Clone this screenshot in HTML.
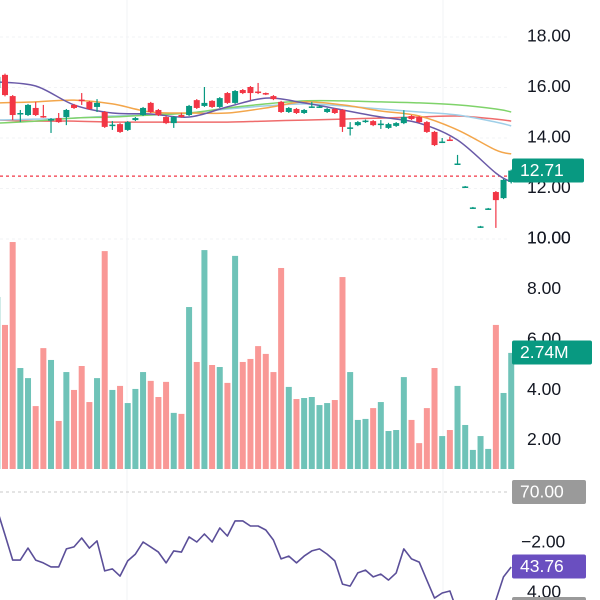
<!DOCTYPE html>
<html><head><meta charset="utf-8"><style>
html,body{margin:0;padding:0;background:#fff;}
svg{display:block;font-family:"Liberation Sans",sans-serif;}
</style></head><body>
<svg id="chart" width="600" height="600" viewBox="0 0 600 600" xmlns="http://www.w3.org/2000/svg">
<g id="grid"></g>
<g id="volume"></g>
<g id="mas"></g>
<g id="candles"></g>
<g id="rsi"></g>
<g id="axis"></g>
</svg>
<script>
const opens=[15.98,16.50,15.66,14.95,14.91,15.19,14.87,14.71,14.79,14.83,15.31,15.52,15.43,15.23,15.03,14.49,14.55,14.32,14.71,14.91,15.39,15.11,14.83,14.59,14.91,14.91,15.50,15.27,15.47,15.23,15.78,15.39,15.90,16.02,15.84,15.78,15.66,15.43,15.03,15.15,14.99,15.21,15.21,15.03,15.15,15.11,14.38,14.51,14.65,14.67,14.53,14.40,14.48,14.59,14.87,14.83,14.63,14.24,13.82,13.94,12.95,12.04,11.21,10.46,11.17,11.86,11.62,12.26];
const closes=[16.42,15.70,14.91,14.99,15.31,14.91,14.83,14.75,14.63,15.11,15.19,15.48,15.15,15.39,14.44,14.53,14.24,14.63,14.79,15.19,15.03,14.91,14.59,14.83,14.83,15.27,15.19,15.39,15.23,15.58,15.39,15.86,15.78,15.78,15.80,15.74,15.54,15.03,15.19,14.99,15.11,15.25,15.25,15.15,14.99,14.44,14.42,14.63,14.69,14.51,14.57,14.55,14.59,14.83,14.75,14.63,14.24,13.72,13.86,13.90,12.99,12.08,11.25,10.50,11.21,11.54,12.34,12.71];
const highs=[16.50,16.55,15.70,15.11,15.35,15.43,15.31,14.79,14.99,15.15,15.35,15.78,15.47,15.54,15.07,14.67,14.59,14.67,14.83,15.23,15.43,15.15,14.87,14.87,15.00,15.31,15.54,16.02,15.50,15.62,15.82,15.90,15.94,16.06,16.18,15.80,15.70,15.47,15.23,15.19,15.15,15.43,15.30,15.19,15.19,15.15,14.63,14.67,14.73,14.71,14.71,14.60,14.63,15.10,14.91,14.87,14.67,14.28,14.00,14.05,13.33,12.10,11.27,10.52,11.23,11.90,12.38,12.75];
const lows=[15.90,15.65,14.71,14.63,14.87,14.87,14.80,14.20,14.60,14.51,15.15,15.31,15.11,15.03,14.40,14.32,14.20,14.28,14.67,14.87,14.99,14.87,14.55,14.40,14.80,14.87,15.15,15.23,15.19,15.19,15.35,15.35,15.74,15.50,15.74,15.70,15.50,14.99,14.99,14.95,14.95,15.19,15.19,14.99,14.95,14.24,14.10,14.47,14.60,14.47,14.36,14.36,14.44,14.55,14.71,14.59,14.20,13.68,13.80,13.88,12.93,12.02,11.19,10.44,11.15,10.44,11.58,12.20];
const volumes=[7.70,6.59,9.88,4.88,4.48,3.37,5.67,5.20,2.78,4.72,4.01,4.96,3.53,4.48,9.52,4.01,4.17,3.49,4.05,4.72,4.37,3.73,4.33,3.10,3.06,7.30,5.12,9.56,5.00,4.92,4.29,9.33,5.12,5.24,5.75,5.44,4.72,8.85,4.13,3.65,3.69,3.73,3.41,3.49,3.61,8.49,4.72,2.82,2.86,3.29,3.53,2.38,2.42,4.52,2.82,1.90,3.29,4.88,2.18,2.42,4.17,2.62,1.63,2.18,1.67,6.59,3.89,5.48];
const volUp=[1,0,0,1,1,0,0,1,0,1,0,0,0,1,0,1,0,1,1,1,0,0,0,1,0,1,0,1,0,1,0,1,0,0,0,0,0,0,1,0,1,1,1,1,0,0,1,1,1,0,1,1,1,1,0,0,0,0,1,0,1,1,1,1,1,0,1,1];
const rsiValues=[63.7,55.0,46.2,46.2,50.4,46.2,45.2,43.8,43.8,50.1,50.8,53.9,50.4,52.9,42.4,43.1,40.6,45.9,48.3,52.5,50.8,49.0,45.2,49.4,49.0,54.3,52.5,55.3,52.5,57.4,54.6,59.9,59.9,58.1,58.1,56.7,53.2,46.6,47.6,45.2,47.6,49.4,50.1,48.3,45.9,37.8,37.1,41.7,42.7,40.3,41.3,39.2,41.7,50.1,46.6,45.5,39.2,32.9,34.7,35.4,28,25,22,22,26,32.2,40.3,43.76];
const maIdx=[0,5,10,15,20,25,30,35,40,45,50,55,60,65,67];
const maPurple=[16.22,16.06,15.31,14.99,14.95,14.83,15.23,15.58,15.39,15.11,14.83,14.59,13.92,12.61,12.26];
const maOrange=[15.39,15.43,15.50,15.35,15.03,14.99,14.99,15.19,15.43,15.31,15.07,14.87,14.32,13.52,13.37];
const maGreen=[14.59,14.67,14.79,14.83,14.91,14.99,15.19,15.35,15.47,15.47,15.43,15.39,15.31,15.15,15.03];
const maBlue=[14.71,14.75,14.79,14.87,14.91,14.99,15.15,15.27,15.35,15.27,15.15,15.03,14.91,14.63,14.48];
const maRed=[14.71,14.67,14.67,14.63,14.63,14.63,14.63,14.67,14.71,14.75,14.79,14.83,14.87,14.75,14.67];
const priceTicks=["18.00","16.00","14.00","12.00","10.00"];
const priceTickVals=[18,16,14,12,10];
const volTicks=["10.00","8.00","6.00","4.00","2.00"];
const volTickVals=[10,8,6,4,2];
const lastPrice=12.71, lastLine=12.49, lastVolume="2.74M", lastRsi=43.76, rsiUpper=70;

const NS="http://www.w3.org/2000/svg";
const xOf=i=>-2.67+7.67*i;
const yP=p=>138-(p-14)*25.25;
const yV=v=>491-v*25.2;
const yR=r=>492+(rsiUpper-r)*2.86;
function mk(tag,attrs,parent){const e=document.createElementNS(NS,tag);for(const k in attrs)e.setAttribute(k,attrs[k]);parent.appendChild(e);return e;}
const G=id=>document.getElementById(id);
const UP="#089981",DN="#f23645";

const grid=G('grid');
[127,443].forEach(x=>{const l=mk('line',{x1:x,x2:x,y1:0,y2:600,stroke:'#f2f3f5','stroke-width':1},grid);

});
priceTickVals.forEach(v=>{const l=mk('line',{x1:0,x2:510,y1:yP(v),y2:yP(v),stroke:'#f2f3f5','stroke-dasharray':'3 3'},grid);

});

const vg=G('volume');
volumes.forEach((v,i)=>{const top=yV(v);const r=mk('rect',{x:xOf(i)-3,y:top,width:6,height:469-top,fill:volUp[i]?'#6fc3b8':'#f99896'},vg);

});

const mg=G('mas');
function maLine(arr,color,name){
const pts=arr.map((v,k)=>[xOf(maIdx[k]),yP(v)]);
let d='M'+pts[0][0].toFixed(1)+' '+pts[0][1].toFixed(1);
for(let k=0;k<pts.length-1;k++){const p0=pts[Math.max(0,k-1)],p1=pts[k],p2=pts[k+1],p3=pts[Math.min(pts.length-1,k+2)];
const c1=[p1[0]+(p2[0]-p0[0])/6,p1[1]+(p2[1]-p0[1])/6],c2=[p2[0]-(p3[0]-p1[0])/6,p2[1]-(p3[1]-p1[1])/6];
d+=' C'+c1[0].toFixed(1)+' '+c1[1].toFixed(1)+' '+c2[0].toFixed(1)+' '+c2[1].toFixed(1)+' '+p2[0].toFixed(1)+' '+p2[1].toFixed(1);}
const p=mk('path',{d:d,fill:'none',stroke:color,'stroke-width':1.5,'stroke-linejoin':'round'},mg);

}
maLine(maRed,'#ef6c6c','ma-red-line');
maLine(maBlue,'#9fcfe8','ma-blue-line');
maLine(maGreen,'#7fd36a','ma-green-line');
maLine(maOrange,'#f3a64b','ma-orange-line');
maLine(maPurple,'#6a5aa8','ma-purple-line');

const dl=mk('line',{x1:0,x2:512,y1:yP(lastLine),y2:yP(lastLine),stroke:'#f23645','stroke-width':1.2,'stroke-dasharray':'3 3'},G('grid'));



const cg=G('candles');
opens.forEach((o,i)=>{const c=closes[i];const col=c>=o?UP:DN;const x=xOf(i);
const w=mk('line',{x1:x,x2:x,y1:yP(highs[i]),y2:yP(lows[i]),stroke:col,'stroke-width':1.2},cg);


const t=yP(Math.max(o,c)),b=yP(Math.min(o,c));
const r=mk('rect',{x:x-3,y:t,width:6,height:Math.max(1.5,b-t),fill:col},cg);

});

const rg=G('rsi');
const rl=mk('line',{x1:0,x2:510,y1:yR(rsiUpper),y2:yR(rsiUpper),stroke:'#c8c8c8','stroke-dasharray':'3 3'},rg);


let rd='';rsiValues.forEach((v,i)=>{rd+=(i?'L':'M')+xOf(i).toFixed(1)+' '+yR(v).toFixed(1)+' ';});
const rp=mk('path',{d:rd,fill:'none',stroke:'#5b4f99','stroke-width':1.6,'stroke-linejoin':'round'},rg);



const ag=G('axis');
function txt(s,x,y,fill,name){const t=mk('text',{x:x,y:y,'font-size':17.5,'font-weight':500,fill:fill,'dominant-baseline':'middle'},ag);t.textContent=s;

return t;}
priceTicks.forEach((s,k)=>txt(s,527,yP(priceTickVals[k]),'#131722','price-tick-label'));
volTicks.forEach((s,k)=>txt(s,527,yV(volTickVals[k]),'#131722','volume-tick-label'));
txt('\u22122.00',521,543,'#131722','rsi-tick-label');
txt('4.00',527,593,'#131722','rsi-tick-label');
function box(label,y,bg,name,w){const g=mk('g',{},ag);

mk('rect',{x:512,y:y-12,width:w||74,height:24,rx:2,fill:bg},g);
const t=mk('text',{x:520,y:y+1,'font-size':17.5,fill:'#fff','dominant-baseline':'middle'},g);t.textContent=label;}
box(String(lastPrice.toFixed(2)),170.5,UP,'last-price-label',72);
box(lastVolume,352.5,UP,'last-volume-label',80);
box('70.00',yR(rsiUpper),'#9a9a9a','rsi-upper-label');
box(lastRsi.toFixed(2),566.5,'#6a4fc0','rsi-value-label');
box('30.00',609,'#9a9a9a','rsi-lower-label');
</script>
</body></html>
